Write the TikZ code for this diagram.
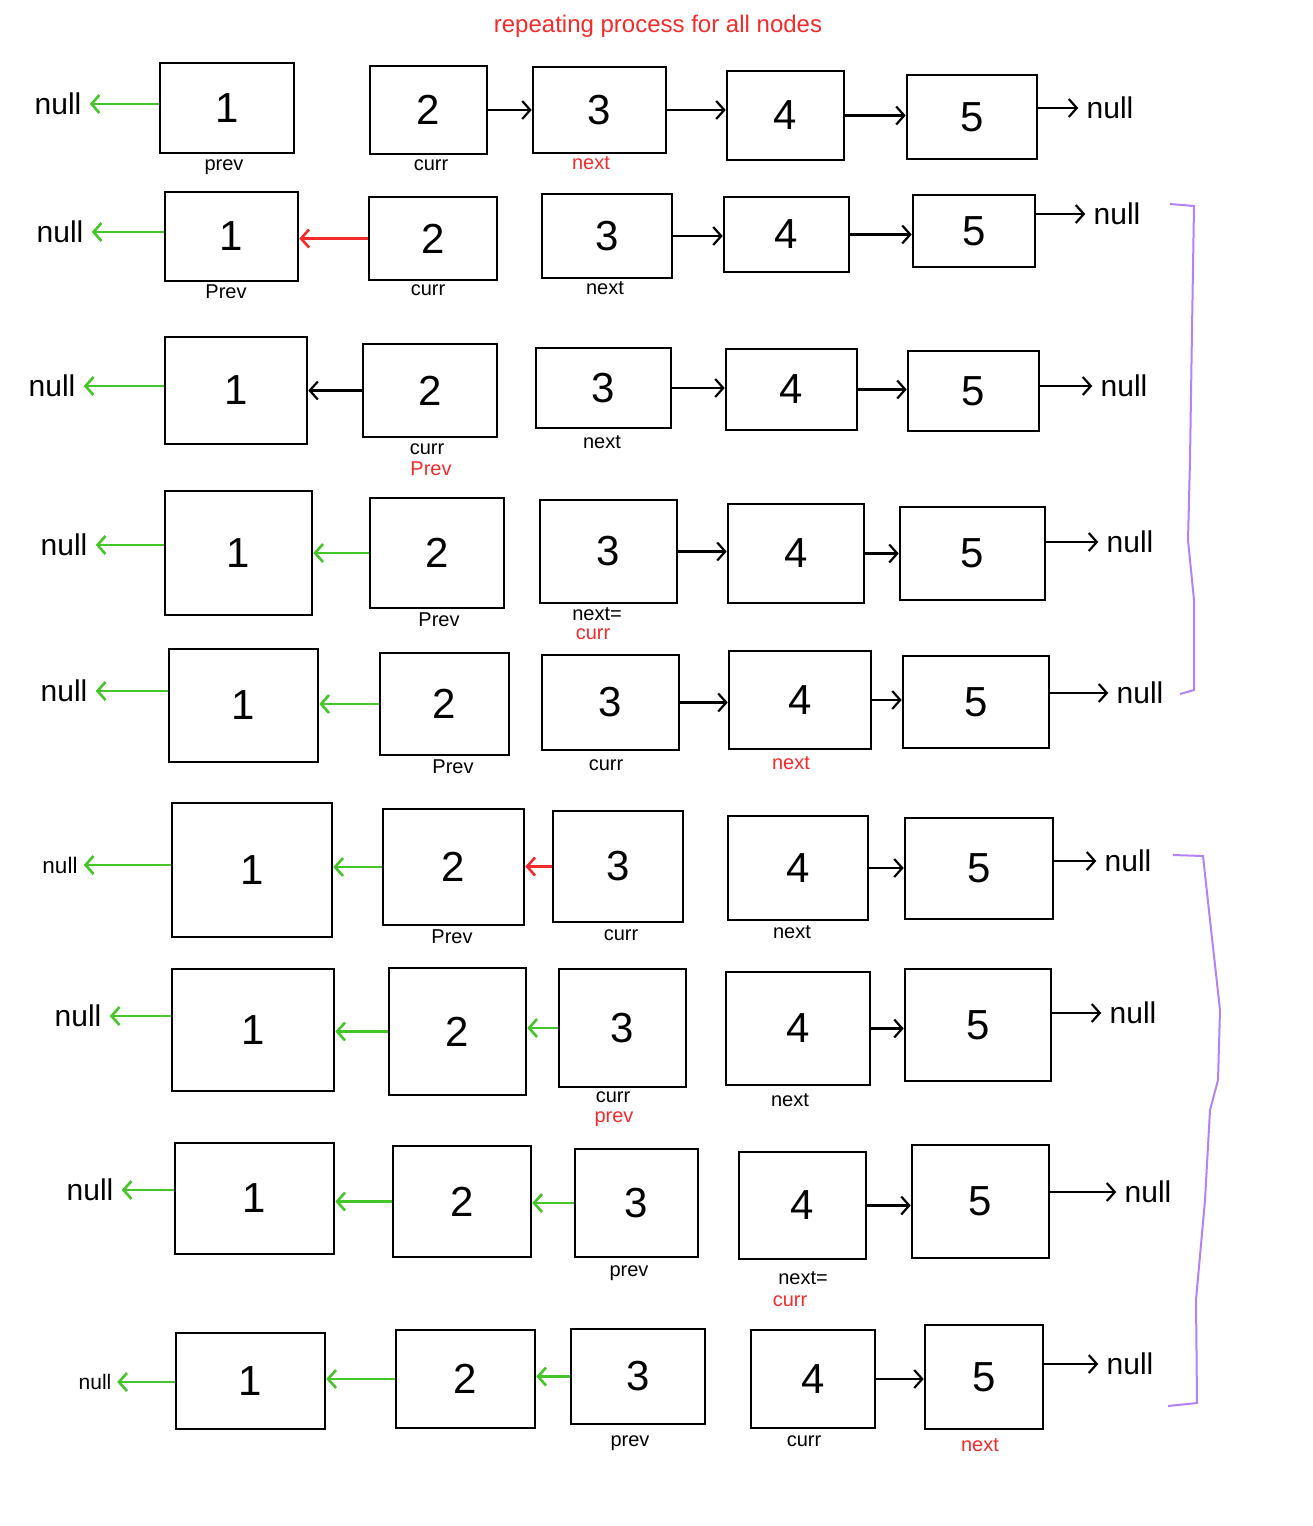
\documentclass[tikz,border=0pt]{standalone}
\usepackage{fontspec}
\setmainfont{Liberation Sans}
\usetikzlibrary{arrows.meta,fit}
\definecolor{cgreen}{HTML}{44C528}
\definecolor{cred}{HTML}{F52A2A}
\definecolor{cpurple}{HTML}{B382FA}

\begin{document}
\begin{tikzpicture}[x=0.5pt,y=-0.5pt,
  box/.style={draw,line width=1.3pt,inner sep=0pt,
    label={[font=\fontsize{21}{21}\selectfont]center:#1}},
  nul/.style={font=\fontsize{15}{15}\selectfont,inner sep=4pt},
  lab/.style={font=\fontsize{10}{10}\selectfont,inner sep=1pt},
  nx/.style={-{Straight Barb[length=4pt,width=9pt]},line width=1.1pt},
  back/.style={nx,cgreen,line width=1.3pt},
  relink/.style={nx,cred,line width=1.3pt},
  brace/.style={cpurple,line width=1pt}]
  \useasboundingbox (0,0) rectangle (1312,1526);
  \node[font=\fontsize{12}{12}\selectfont,text=cred] (title) at (658,26) {repeating process for all nodes};

  % row 1
  \node[box=1,fit={(160,63) (294,153)}] (r1a) {};
  \node[box=2,fit={(370,66) (487,154)}] (r1b) {};
  \node[box=3,fit={(533,67) (666,153)}] (r1c) {};
  \node[box=4,fit={(727,71) (844,160)}] (r1d) {};
  \node[box=5,fit={(907,75) (1037,159)}] (r1e) {};
  \node[nul] (r1l) at (58,104) {null};
  \node[nul] (r1r) at (1110,108) {null};
  \node[lab] (r1p) at (224,167) {prev};
  \node[lab] (r1q) at (431,165) {curr};
  \node[lab,text=cred] (r1n) at (591,163) {next};
  \draw[back] (r1a.west |- r1l) -- (r1l.east);
  \draw[nx] (r1b.east) -- (r1b.east -| r1c.west);
  \draw[nx] (r1c.east) -- (r1c.east -| r1d.west);
  \draw[nx] (r1d.east) -- (r1d.east -| r1e.west);
  \draw[nx] (r1e.east |- r1r) -- (r1r.west);

  % row 2
  \node[box=1,fit={(165,192) (298,281)}] (r2a) {};
  \node[box=2,fit={(369,197) (497,280)}] (r2b) {};
  \node[box=3,fit={(542,194) (672,278)}] (r2c) {};
  \node[box=4,fit={(724,197) (849,272)}] (r2d) {};
  \node[box=5,fit={(913,195) (1035,267)}] (r2e) {};
  \node[nul] (r2l) at (60,232) {null};
  \node[nul] (r2r) at (1117,214) {null};
  \node[lab] (r2p) at (226,292) {Prev};
  \node[lab] (r2q) at (428,290) {curr};
  \node[lab] (r2n) at (605,288) {next};
  \draw[back] (r2a.west |- r2l) -- (r2l.east);
  \draw[relink] (r2b.west) -- (r2b.west -| r2a.east);
  \draw[nx] (r2c.east) -- (r2c.east -| r2d.west);
  \draw[nx] (r2d.east) -- (r2d.east -| r2e.west);
  \draw[nx] (r2e.east |- r2r) -- (r2r.west);

  % row 3
  \node[box=1,fit={(165,337) (307,444)}] (r3a) {};
  \node[box=2,fit={(363,344) (497,437)}] (r3b) {};
  \node[box=3,fit={(536,348) (671,428)}] (r3c) {};
  \node[box=4,fit={(726,349) (857,430)}] (r3d) {};
  \node[box=5,fit={(908,351) (1039,431)}] (r3e) {};
  \node[nul] (r3l) at (52,386) {null};
  \node[nul] (r3r) at (1124,386) {null};
  \node[lab] (r3q) at (427,449) {curr};
  \node[lab,text=cred] (r3p) at (431,469) {Prev};
  \node[lab] (r3n) at (602,442) {next};
  \draw[back] (r3a.west |- r3l) -- (r3l.east);
  \draw[nx] (r3b.west) -- (r3b.west -| r3a.east);
  \draw[nx] (r3c.east) -- (r3c.east -| r3d.west);
  \draw[nx] (r3d.east) -- (r3d.east -| r3e.west);
  \draw[nx] (r3e.east |- r3r) -- (r3r.west);

  % row 4
  \node[box=1,fit={(165,491) (312,615)}] (r4a) {};
  \node[box=2,fit={(370,498) (504,608)}] (r4b) {};
  \node[box=3,fit={(540,500) (677,603)}] (r4c) {};
  \node[box=4,fit={(728,504) (864,603)}] (r4d) {};
  \node[box=5,fit={(900,507) (1045,600)}] (r4e) {};
  \node[nul] (r4l) at (64,545) {null};
  \node[nul] (r4r) at (1130,542) {null};
  \node[lab] (r4p) at (439,620) {Prev};
  \node[lab] (r4n) at (597,614) {next=};
  \node[lab,text=cred] (r4q) at (593,634) {curr};
  \draw[back] (r4a.west |- r4l) -- (r4l.east);
  \draw[back] (r4b.west) -- (r4b.west -| r4a.east);
  \draw[nx] (r4c.east) -- (r4c.east -| r4d.west);
  \draw[nx] (r4d.east) -- (r4d.east -| r4e.west);
  \draw[nx] (r4e.east |- r4r) -- (r4r.west);

  % row 5
  \node[box=1,fit={(169,649) (318,762)}] (r5a) {};
  \node[box=2,fit={(380,653) (509,755)}] (r5b) {};
  \node[box=3,fit={(542,655) (679,750)}] (r5c) {};
  \node[box=4,fit={(729,651) (871,749)}] (r5d) {};
  \node[box=5,fit={(903,656) (1049,748)}] (r5e) {};
  \node[nul] (r5l) at (64,691) {null};
  \node[nul] (r5r) at (1140,693) {null};
  \node[lab] (r5p) at (453,767) {Prev};
  \node[lab] (r5q) at (606,765) {curr};
  \node[lab,text=cred] (r5n) at (791,763) {next};
  \draw[back] (r5a.west |- r5l) -- (r5l.east);
  \draw[back] (r5b.west) -- (r5b.west -| r5a.east);
  \draw[nx] (r5c.east) -- (r5c.east -| r5d.west);
  \draw[nx] (r5d.east) -- (r5d.east -| r5e.west);
  \draw[nx] (r5e.east |- r5r) -- (r5r.west);

  % row 6
  \node[box=1,fit={(172,803) (332,937)}] (r6a) {};
  \node[box=2,fit={(383,809) (524,925)}] (r6b) {};
  \node[box=3,fit={(553,811) (683,922)}] (r6c) {};
  \node[box=4,fit={(728,816) (868,920)}] (r6d) {};
  \node[box=5,fit={(905,818) (1053,919)}] (r6e) {};
  \node[nul,scale=0.75] (r6l) at (60,865) {null};
  \node[nul] (r6r) at (1128,861) {null};
  \node[lab] (r6p) at (452,937) {Prev};
  \node[lab] (r6q) at (621,935) {curr};
  \node[lab] (r6n) at (792,932) {next};
  \draw[back] (r6a.west |- r6l) -- (r6l.east);
  \draw[back] (r6b.west) -- (r6b.west -| r6a.east);
  \draw[relink] (r6c.west) -- (r6c.west -| r6b.east);
  \draw[nx] (r6d.east) -- (r6d.east -| r6e.west);
  \draw[nx] (r6e.east |- r6r) -- (r6r.west);

  % row 7
  \node[box=1,fit={(172,969) (334,1091)}] (r7a) {};
  \node[box=2,fit={(389,968) (526,1095)}] (r7b) {};
  \node[box=3,fit={(559,969) (686,1087)}] (r7c) {};
  \node[box=4,fit={(726,972) (870,1085)}] (r7d) {};
  \node[box=5,fit={(905,969) (1051,1081)}] (r7e) {};
  \node[nul] (r7l) at (78,1016) {null};
  \node[nul] (r7r) at (1133,1013) {null};
  \node[lab] (r7q) at (613,1097) {curr};
  \node[lab,text=cred] (r7p) at (614,1119) {prev};
  \node[lab] (r7n) at (790,1100) {next};
  \draw[back] (r7a.west |- r7l) -- (r7l.east);
  \draw[back] (r7b.west) -- (r7b.west -| r7a.east);
  \draw[back] (r7c.west) -- (r7c.west -| r7b.east);
  \draw[nx] (r7d.east) -- (r7d.east -| r7e.west);
  \draw[nx] (r7e.east |- r7r) -- (r7r.west);

  % row 8
  \node[box=1,fit={(175,1143) (334,1254)}] (r8a) {};
  \node[box=2,fit={(393,1146) (531,1257)}] (r8b) {};
  \node[box=3,fit={(575,1149) (698,1257)}] (r8c) {};
  \node[box=4,fit={(739,1152) (866,1259)}] (r8d) {};
  \node[box=5,fit={(912,1145) (1049,1258)}] (r8e) {};
  \node[nul] (r8l) at (90,1190) {null};
  \node[nul] (r8r) at (1148,1192) {null};
  \node[lab] (r8p) at (629,1273) {prev};
  \node[lab] (r8n) at (803,1278) {next=};
  \node[lab,text=cred] (r8q) at (790,1301) {curr};
  \draw[back] (r8a.west |- r8l) -- (r8l.east);
  \draw[back] (r8b.west) -- (r8b.west -| r8a.east);
  \draw[back] (r8c.west) -- (r8c.west -| r8b.east);
  \draw[nx] (r8d.east) -- (r8d.east -| r8e.west);
  \draw[nx] (r8e.east |- r8r) -- (r8r.west);

  % row 9
  \node[box=1,fit={(176,1333) (325,1429)}] (r9a) {};
  \node[box=2,fit={(396,1330) (535,1428)}] (r9b) {};
  \node[box=3,fit={(571,1329) (705,1424)}] (r9c) {};
  \node[box=4,fit={(751,1330) (875,1428)}] (r9d) {};
  \node[box=5,fit={(925,1325) (1043,1429)}] (r9e) {};
  \node[nul,scale=0.7] (r9l) at (95,1382) {null};
  \node[nul] (r9r) at (1130,1364) {null};
  \node[lab] (r9p) at (630,1443) {prev};
  \node[lab] (r9q) at (804,1441) {curr};
  \node[lab,text=cred] (r9n) at (980,1445) {next};
  \draw[back] (r9a.west |- r9l) -- (r9l.east);
  \draw[back] (r9b.west) -- (r9b.west -| r9a.east);
  \draw[back] (r9c.west) -- (r9c.west -| r9b.east);
  \draw[nx] (r9d.east) -- (r9d.east -| r9e.west);
  \draw[nx] (r9e.east |- r9r) -- (r9r.west);

  % brackets
  \draw[brace] (1170,204) -- (1194,206) -- (1192,330) -- (1190,460) -- (1188,540)
    -- (1194,600) -- (1194,690) -- (1180,694);
  \draw[brace] (1173,855) -- (1203,856) -- (1210,920) -- (1220,1010) -- (1218,1080)
    -- (1210,1110) -- (1205,1200) -- (1196,1300) -- (1197,1403) -- (1168,1406);
\end{tikzpicture}
\end{document}
